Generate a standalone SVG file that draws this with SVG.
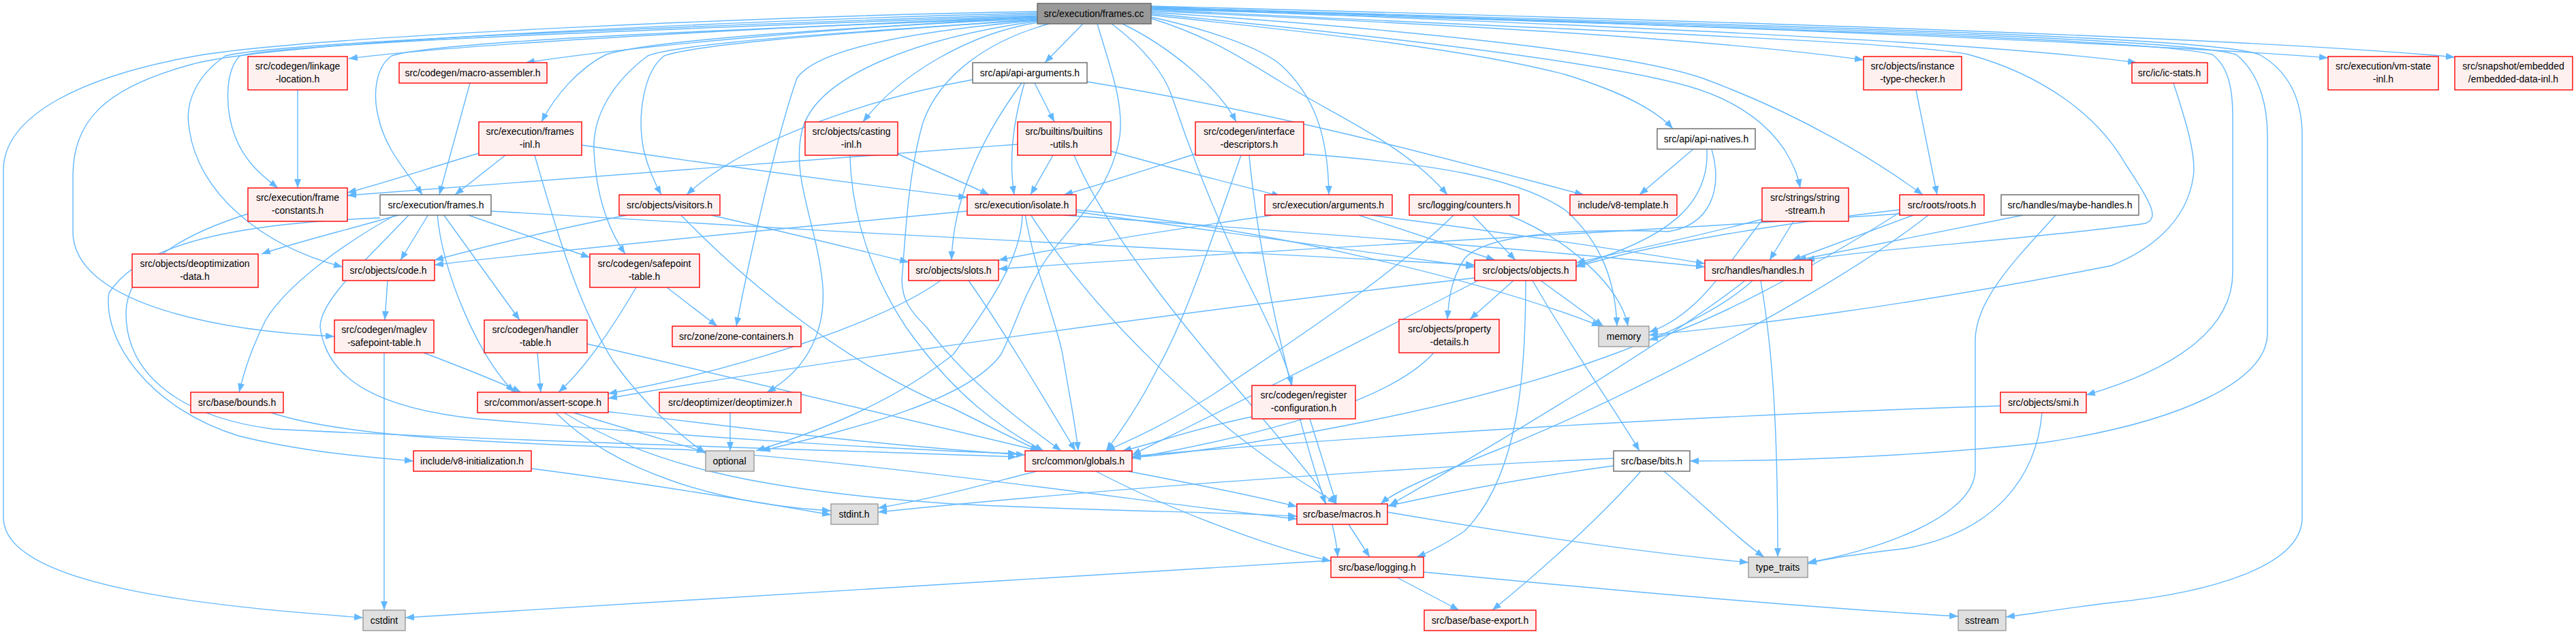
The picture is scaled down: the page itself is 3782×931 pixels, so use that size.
<svg xmlns="http://www.w3.org/2000/svg" width="3782" height="931" viewBox="0 0 3782 931">
<defs>
<marker id="ah" markerUnits="userSpaceOnUse" markerWidth="14" markerHeight="10" refX="13" refY="5" orient="auto"><path d="M0,0 L13,5 L0,10 z" fill="#63b8ff"/></marker>
<style>
.e{fill:none;stroke:#63b8ff;stroke-width:1.4;marker-end:url(#ah)}
.r rect{fill:#fff0f0;stroke:#ff0000;stroke-width:1.4}
.w rect{fill:#ffffff;stroke:#666666;stroke-width:1.4}
.g rect{fill:#999999;stroke:#666666;stroke-width:1.4}
.l rect{fill:#e0e0e0;stroke:#999999;stroke-width:1.4}
text{font-family:"Liberation Sans",Arial,sans-serif;font-size:14px;fill:#000;text-anchor:middle}
</style>
</defs>
<rect width="3782" height="931" fill="#ffffff"/>
<g id="edges">
<path class="e" d="M1523,17 C1200,22 500,50 300,80 C120,110 5,170 5,250 L5,760 C5,860 300,890 533,907"/>
<path class="e" d="M1523,19 C1100,30 400,60 280,95 C150,130 107,180 107,260 L107,340 C107,440 300,485 491,494"/>
<path class="e" d="M1523,21 C1100,35 420,60 331,82 C290,110 270,150 278,190 C290,280 380,360 503,392"/>
<path class="e" d="M1523,23 C1100,38 420,62 352,82 C330,105 330,160 345,200 C360,240 390,262 408,276"/>
<path class="e" d="M1523,24 C1150,40 700,62 512,86"/>
<path class="e" d="M1523,25 C1250,40 950,65 772,92"/>
<path class="e" d="M1523,26 C1100,42 640,60 575,82 C550,100 548,140 555,170 C565,220 600,255 620,286"/>
<path class="e" d="M1523,27 C1250,40 960,58 890,80 C850,100 815,140 795,179"/>
<path class="e" d="M1523,28 C1300,45 1030,62 975,82 C945,105 935,170 945,220 C952,250 962,270 971,286"/>
<path class="e" d="M1523,29 C1280,45 1000,62 951,82 C900,120 870,170 872,220 C875,290 895,340 918,373"/>
<path class="e" d="M1523,30 C1350,45 1200,70 1170,115 C1140,200 1100,380 1081,479"/>
<path class="e" d="M1523,31 C1350,55 1200,110 1178,190 C1160,260 1200,330 1208,420 C1212,480 1190,540 1126,576"/>
<path class="e" d="M1523,33 C1420,50 1320,110 1267,179"/>
<path class="e" d="M1590,35 L1534,92"/>
<path class="e" d="M1540,35 C1450,60 1380,110 1355,180 C1335,250 1330,330 1325,400 C1320,440 1340,460 1360,480 C1420,560 1500,620 1558,662"/>
<path class="e" d="M1611,35 C1630,100 1650,150 1644,200 C1630,290 1560,340 1530,390 C1500,440 1490,480 1470,520 C1420,590 1250,630 1118,662"/>
<path class="e" d="M1632,35 C1680,70 1710,110 1720,140 C1750,230 1790,330 1830,410 C1860,470 1885,520 1897,566"/>
<path class="e" d="M1648,35 C1720,70 1790,130 1815,179"/>
<path class="e" d="M1690,25 C1780,45 1850,70 1880,95 C1930,140 1950,200 1951,286"/>
<path class="e" d="M1690,27 C1780,55 1830,90 1880,120 C1960,170 2060,210 2125,286"/>
<path class="e" d="M1690,22 C1900,45 2150,70 2300,110 C2380,135 2430,160 2456,189"/>
<path class="e" d="M1690,20 C2000,50 2350,90 2480,127 C2560,150 2600,190 2620,220 C2635,245 2640,260 2643,276"/>
<path class="e" d="M1690,18 C2100,45 2400,80 2500,115 C2650,170 2760,240 2823,286"/>
<path class="e" d="M1690,16 C2100,35 2500,55 2736,88"/>
<path class="e" d="M1690,14 C2200,40 2800,60 2890,80 C3000,110 3080,170 3120,240 C3160,300 3170,320 3150,328 C3000,350 2750,365 2651,382"/>
<path class="e" d="M1690,12 C2300,35 2900,60 3137,92"/>
<path class="e" d="M1690,10 C2400,35 3100,60 3418,85"/>
<path class="e" d="M1690,9 C2500,30 3300,55 3604,84"/>
<path class="e" d="M1690,13 C2500,40 3150,55 3248,80 C3275,100 3278,140 3278,170 L3278,400 C3278,480 3200,540 3063,580"/>
<path class="e" d="M1690,12 C2600,40 3200,55 3283,80 C3320,110 3329,160 3329,200 L3329,490 C3329,560 3200,620 3000,650 C2800,672 2600,677 2481,677"/>
<path class="e" d="M1690,11 C2700,40 3250,55 3317,80 C3370,110 3380,160 3380,200 L3380,760 C3380,830 3250,870 3100,885 C3040,892 2990,900 2945,906"/>
<path class="e" d="M437,132 L437,276"/>
<path class="e" d="M690,122 L645,286"/>
<path class="e" d="M1519,122 L1548,179"/>
<path class="e" d="M1504,122 C1490,170 1480,230 1489,286"/>
<path class="e" d="M1500,122 C1450,190 1400,280 1397,382"/>
<path class="e" d="M1428,117 C1300,140 1100,200 1008,286"/>
<path class="e" d="M1596,120 C1900,170 2150,240 2325,286"/>
<path class="e" d="M703,225 C620,250 560,270 510,283"/>
<path class="e" d="M742,228 L668,286"/>
<path class="e" d="M854,213 C1100,250 1300,275 1420,290"/>
<path class="e" d="M785,228 C820,350 850,450 900,530 C950,600 1000,640 1036,666"/>
<path class="e" d="M1318,226 C1370,250 1420,270 1452,286"/>
<path class="e" d="M1248,228 C1250,330 1290,420 1330,480 C1400,580 1470,630 1532,662"/>
<path class="e" d="M1494,212 C1100,240 700,270 510,287"/>
<path class="e" d="M1546,228 L1513,286"/>
<path class="e" d="M1631,222 C1730,250 1830,275 1880,288"/>
<path class="e" d="M1577,228 C1650,400 1850,600 1940,720 C1955,760 1962,790 1964,818"/>
<path class="e" d="M1755,226 C1680,250 1620,270 1562,286"/>
<path class="e" d="M1822,228 C1780,350 1740,470 1700,540 C1670,600 1640,640 1624,662"/>
<path class="e" d="M1914,226 C2100,240 2230,260 2300,310 C2355,360 2372,420 2374,479"/>
<path class="e" d="M1834,228 C1850,400 1900,600 1946,740"/>
<path class="e" d="M2486,219 L2407,286"/>
<path class="e" d="M2506,219 C2510,300 2450,350 2314,390"/>
<path class="e" d="M2513,219 C2530,280 2510,330 2450,340 C2300,335 2180,345 2150,380 C2130,410 2127,440 2125,469"/>
<path class="e" d="M2633,325 L2598,382"/>
<path class="e" d="M2587,322 C2480,350 2380,370 2314,386"/>
<path class="e" d="M2590,320 C2540,380 2500,460 2421,488"/>
<path class="e" d="M2813,132 L2844,286"/>
<path class="e" d="M2789,308 C2600,330 2420,360 2314,392"/>
<path class="e" d="M2809,316 L2631,382"/>
<path class="e" d="M2789,312 C2650,400 2500,480 2421,499"/>
<path class="e" d="M2831,316 C2700,420 2400,580 2200,660 C2100,700 2050,720 2027,740"/>
<path class="e" d="M2789,314 C2400,340 1800,370 1466,395"/>
<path class="e" d="M2970,316 L2639,382"/>
<path class="e" d="M3018,316 C2960,380 2900,440 2900,500 L2900,690 C2900,760 2750,810 2654,826"/>
<path class="e" d="M3191,122 C3210,180 3225,230 3220,260 C3210,330 3150,370 3100,390 C2800,450 2550,480 2421,492"/>
<path class="e" d="M2585,412 C2600,500 2610,600 2610,818"/>
<path class="e" d="M2562,412 C2450,500 2200,650 2040,742"/>
<path class="e" d="M2573,412 C2500,480 2300,560 2000,620 C1850,650 1750,665 1662,672"/>
<path class="e" d="M1420,310 C1100,340 800,370 638,389"/>
<path class="e" d="M1501,315 C1500,380 1450,450 1400,520 C1300,600 1180,640 1110,662"/>
<path class="e" d="M1505,315 C1520,400 1550,470 1560,520 C1570,580 1580,630 1583,662"/>
<path class="e" d="M1513,315 C1600,450 1750,600 1900,700 C1930,720 1950,730 1962,740"/>
<path class="e" d="M1580,308 C1900,340 2200,420 2350,479"/>
<path class="e" d="M1562,316 C1900,340 2300,370 2503,392"/>
<path class="e" d="M1580,311 C1800,340 2000,370 2165,392"/>
<path class="e" d="M920,316 C800,340 700,365 638,382"/>
<path class="e" d="M1044,316 C1150,340 1250,365 1334,385"/>
<path class="e" d="M1000,316 C1100,420 1250,540 1400,600 C1460,630 1500,650 1526,662"/>
<path class="e" d="M1381,412 C1300,470 1100,540 893,578"/>
<path class="e" d="M1422,412 C1470,480 1530,580 1579,662"/>
<path class="e" d="M1868,316 C1700,340 1550,365 1466,382"/>
<path class="e" d="M1995,316 L2195,382"/>
<path class="e" d="M2013,316 C2200,340 2400,370 2503,387"/>
<path class="e" d="M2162,316 L2225,382"/>
<path class="e" d="M2134,316 C2050,400 1900,500 1780,580 C1700,630 1650,650 1624,662"/>
<path class="e" d="M2215,316 C2300,350 2380,420 2390,479"/>
<path class="e" d="M2222,412 L2158,469"/>
<path class="e" d="M2262,412 L2354,479"/>
<path class="e" d="M2250,412 C2300,500 2370,600 2407,662"/>
<path class="e" d="M2240,412 C2240,550 2230,700 2150,780 C2120,800 2100,810 2080,818"/>
<path class="e" d="M2166,408 C1800,450 1200,530 893,585"/>
<path class="e" d="M2170,412 C2000,500 1800,600 1662,668"/>
<path class="e" d="M2105,518 C2050,580 1900,630 1662,673"/>
<path class="e" d="M1923,615 L1962,740"/>
<path class="e" d="M1838,612 C1750,630 1700,650 1648,662"/>
<path class="e" d="M2937,596 C2500,610 2000,640 1662,670"/>
<path class="e" d="M2998,606 C2990,700 2930,780 2800,805 C2720,815 2680,820 2654,828"/>
<path class="e" d="M2369,673 C2000,690 1600,720 1289,752"/>
<path class="e" d="M2369,684 C2250,700 2120,725 2037,743"/>
<path class="e" d="M2409,692 C2350,760 2260,840 2191,896"/>
<path class="e" d="M2443,692 C2500,740 2550,790 2590,818"/>
<path class="e" d="M1522,692 C1450,710 1380,730 1289,746"/>
<path class="e" d="M1656,692 C1750,710 1850,730 1904,744"/>
<path class="e" d="M1609,692 C1700,740 1850,800 1954,824"/>
<path class="e" d="M889,604 C1100,630 1300,655 1505,668"/>
<path class="e" d="M842,606 C920,630 990,650 1036,664"/>
<path class="e" d="M816,606 C900,690 1050,740 1220,750"/>
<path class="e" d="M828,606 C950,680 1100,720 1400,740 C1600,750 1800,752 1904,758"/>
<path class="e" d="M780,688 C950,710 1100,735 1220,756"/>
<path class="e" d="M398,606 C500,640 700,650 1000,660 C1300,680 1700,740 1904,762"/>
<path class="e" d="M364,314 C250,350 185,400 185,460 C185,540 250,610 400,630 C800,650 1200,660 1493,671"/>
<path class="e" d="M558,320 C300,330 200,370 160,430 C150,500 220,600 350,640 C450,665 550,672 607,677"/>
<path class="e" d="M580,316 C500,360 420,420 390,470 C370,510 360,540 351,576"/>
<path class="e" d="M600,316 C540,380 470,440 470,480 C480,560 560,600 700,615 C1000,640 1300,660 1493,666"/>
<path class="e" d="M588,315 C500,340 420,360 384,373"/>
<path class="e" d="M629,315 L588,382"/>
<path class="e" d="M685,315 L866,378"/>
<path class="e" d="M651,315 L763,470"/>
<path class="e" d="M642,315 C650,400 700,520 755,576"/>
<path class="e" d="M721,310 C1200,340 1800,370 2165,389"/>
<path class="e" d="M569,412 L565,470"/>
<path class="e" d="M564,518 L564,896"/>
<path class="e" d="M622,518 C680,540 730,560 765,576"/>
<path class="e" d="M789,518 L794,576"/>
<path class="e" d="M862,505 C1100,560 1350,620 1526,662"/>
<path class="e" d="M979,422 L1053,479"/>
<path class="e" d="M934,422 C900,480 860,540 820,576"/>
<path class="e" d="M1072,606 L1072,662"/>
<path class="e" d="M1980,770 L2011,818"/>
<path class="e" d="M2037,752 C2200,780 2400,810 2567,826"/>
<path class="e" d="M1954,823 C1500,850 900,890 595,907"/>
<path class="e" d="M2051,848 L2142,896"/>
<path class="e" d="M2090,840 C2400,870 2700,895 2875,905"/>
</g>
<g id="n_frames_cc" class="g"><rect x="1523" y="5" width="167" height="30"/><text x="1606" y="25">src/execution/frames.cc</text></g>
<g id="n_linkage" class="r"><rect x="364" y="83" width="146" height="49"/><text x="437" y="102">src/codegen/linkage</text><text x="437" y="121">-location.h</text></g>
<g id="n_macroasm" class="r"><rect x="586" y="92" width="217" height="30"/><text x="694" y="112">src/codegen/macro-assembler.h</text></g>
<g id="n_apiargs" class="w"><rect x="1428" y="92" width="168" height="30"/><text x="1512" y="112">src/api/api-arguments.h</text></g>
<g id="n_itc" class="r"><rect x="2736" y="83" width="144" height="49"/><text x="2808" y="102">src/objects/instance</text><text x="2808" y="121">-type-checker.h</text></g>
<g id="n_icstats" class="r"><rect x="3130" y="92" width="111" height="30"/><text x="3185" y="112">src/ic/ic-stats.h</text></g>
<g id="n_vmstate" class="r"><rect x="3418" y="83" width="162" height="49"/><text x="3499" y="102">src/execution/vm-state</text><text x="3499" y="121">-inl.h</text></g>
<g id="n_embedded" class="r"><rect x="3604" y="83" width="173" height="49"/><text x="3690" y="102">src/snapshot/embedded</text><text x="3690" y="121">/embedded-data-inl.h</text></g>
<g id="n_framesinl" class="r"><rect x="703" y="179" width="151" height="49"/><text x="778" y="198">src/execution/frames</text><text x="778" y="217">-inl.h</text></g>
<g id="n_castinl" class="r"><rect x="1182" y="179" width="136" height="49"/><text x="1250" y="198">src/objects/casting</text><text x="1250" y="217">-inl.h</text></g>
<g id="n_builtins" class="r"><rect x="1494" y="179" width="137" height="49"/><text x="1562" y="198">src/builtins/builtins</text><text x="1562" y="217">-utils.h</text></g>
<g id="n_ifdesc" class="r"><rect x="1755" y="179" width="159" height="49"/><text x="1834" y="198">src/codegen/interface</text><text x="1834" y="217">-descriptors.h</text></g>
<g id="n_apinatives" class="w"><rect x="2433" y="189" width="144" height="30"/><text x="2505" y="209">src/api/api-natives.h</text></g>
<g id="n_frameconst" class="r"><rect x="364" y="276" width="146" height="49"/><text x="437" y="295">src/execution/frame</text><text x="437" y="314">-constants.h</text></g>
<g id="n_framesh" class="w"><rect x="558" y="286" width="163" height="30"/><text x="640" y="306">src/execution/frames.h</text></g>
<g id="n_visitors" class="r"><rect x="909" y="286" width="148" height="30"/><text x="983" y="306">src/objects/visitors.h</text></g>
<g id="n_isolate" class="r"><rect x="1420" y="286" width="160" height="30"/><text x="1500" y="306">src/execution/isolate.h</text></g>
<g id="n_arguments" class="r"><rect x="1857" y="286" width="187" height="30"/><text x="1950" y="306">src/execution/arguments.h</text></g>
<g id="n_counters" class="r"><rect x="2069" y="286" width="161" height="30"/><text x="2150" y="306">src/logging/counters.h</text></g>
<g id="n_v8template" class="r"><rect x="2305" y="286" width="157" height="30"/><text x="2383" y="306">include/v8-template.h</text></g>
<g id="n_stringstream" class="r"><rect x="2587" y="276" width="127" height="49"/><text x="2650" y="295">src/strings/string</text><text x="2650" y="314">-stream.h</text></g>
<g id="n_roots" class="r"><rect x="2789" y="286" width="124" height="30"/><text x="2851" y="306">src/roots/roots.h</text></g>
<g id="n_maybehandles" class="w"><rect x="2938" y="286" width="202" height="30"/><text x="3039" y="306">src/handles/maybe-handles.h</text></g>
<g id="n_deoptdata" class="r"><rect x="194" y="373" width="185" height="49"/><text x="286" y="392">src/objects/deoptimization</text><text x="286" y="411">-data.h</text></g>
<g id="n_code" class="r"><rect x="503" y="382" width="135" height="30"/><text x="570" y="402">src/objects/code.h</text></g>
<g id="n_safepoint" class="r"><rect x="866" y="373" width="161" height="49"/><text x="946" y="392">src/codegen/safepoint</text><text x="946" y="411">-table.h</text></g>
<g id="n_slots" class="r"><rect x="1334" y="382" width="132" height="30"/><text x="1400" y="402">src/objects/slots.h</text></g>
<g id="n_objects" class="r"><rect x="2165" y="382" width="149" height="30"/><text x="2240" y="402">src/objects/objects.h</text></g>
<g id="n_handles" class="r"><rect x="2503" y="382" width="157" height="30"/><text x="2581" y="402">src/handles/handles.h</text></g>
<g id="n_maglev" class="r"><rect x="491" y="470" width="146" height="48"/><text x="564" y="489">src/codegen/maglev</text><text x="564" y="508">-safepoint-table.h</text></g>
<g id="n_handler" class="r"><rect x="711" y="470" width="151" height="48"/><text x="786" y="489">src/codegen/handler</text><text x="786" y="508">-table.h</text></g>
<g id="n_zone" class="r"><rect x="987" y="479" width="189" height="30"/><text x="1081" y="499">src/zone/zone-containers.h</text></g>
<g id="n_propdetails" class="r"><rect x="2054" y="469" width="147" height="49"/><text x="2128" y="488">src/objects/property</text><text x="2128" y="507">-details.h</text></g>
<g id="n_memory" class="l"><rect x="2347" y="479" width="74" height="30"/><text x="2384" y="499">memory</text></g>
<g id="n_bounds" class="r"><rect x="280" y="576" width="136" height="30"/><text x="348" y="596">src/base/bounds.h</text></g>
<g id="n_assert" class="r"><rect x="701" y="576" width="192" height="30"/><text x="797" y="596">src/common/assert-scope.h</text></g>
<g id="n_deoptimizer" class="r"><rect x="968" y="576" width="208" height="30"/><text x="1072" y="596">src/deoptimizer/deoptimizer.h</text></g>
<g id="n_regconfig" class="r"><rect x="1838" y="566" width="152" height="49"/><text x="1914" y="585">src/codegen/register</text><text x="1914" y="604">-configuration.h</text></g>
<g id="n_smi" class="r"><rect x="2937" y="576" width="126" height="30"/><text x="3000" y="596">src/objects/smi.h</text></g>
<g id="n_v8init" class="r"><rect x="607" y="662" width="173" height="30"/><text x="693" y="682">include/v8-initialization.h</text></g>
<g id="n_optional" class="l"><rect x="1036" y="662" width="71" height="30"/><text x="1071" y="682">optional</text></g>
<g id="n_globals" class="r"><rect x="1505" y="662" width="157" height="30"/><text x="1583" y="682">src/common/globals.h</text></g>
<g id="n_bits" class="w"><rect x="2369" y="662" width="112" height="30"/><text x="2425" y="682">src/base/bits.h</text></g>
<g id="n_stdint" class="l"><rect x="1220" y="740" width="69" height="30"/><text x="1254" y="760">stdint.h</text></g>
<g id="n_macros" class="r"><rect x="1904" y="740" width="133" height="30"/><text x="1970" y="760">src/base/macros.h</text></g>
<g id="n_logging" class="r"><rect x="1954" y="818" width="136" height="30"/><text x="2022" y="838">src/base/logging.h</text></g>
<g id="n_typetraits" class="l"><rect x="2567" y="818" width="87" height="30"/><text x="2610" y="838">type_traits</text></g>
<g id="n_cstdint" class="l"><rect x="533" y="896" width="62" height="30"/><text x="564" y="916">cstdint</text></g>
<g id="n_baseexport" class="r"><rect x="2091" y="896" width="164" height="30"/><text x="2173" y="916">src/base/base-export.h</text></g>
<g id="n_sstream" class="l"><rect x="2875" y="896" width="70" height="30"/><text x="2910" y="916">sstream</text></g>
</svg>
